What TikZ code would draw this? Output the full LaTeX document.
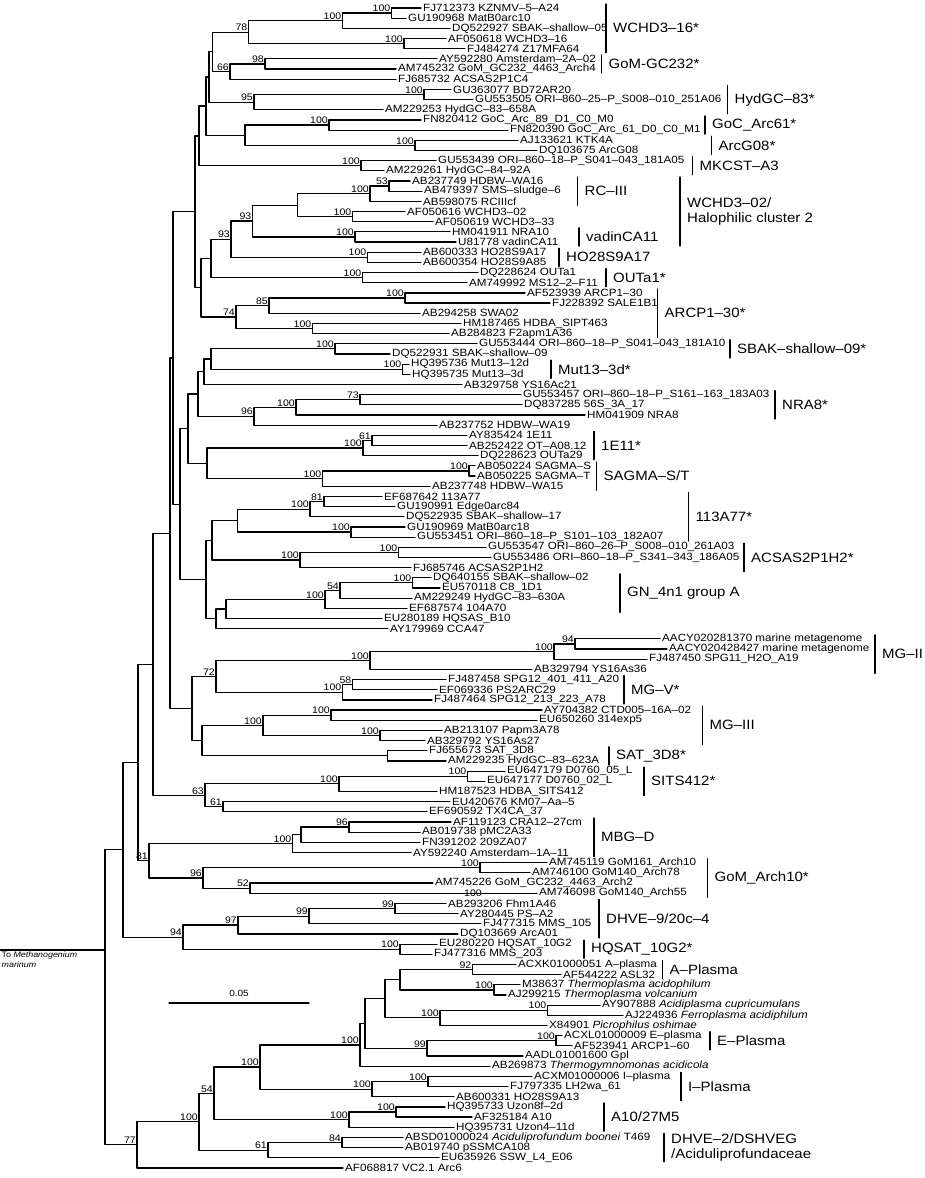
\documentclass[tikz,border=0pt]{standalone}
\usepackage{fontspec}
\setmainfont{Liberation Sans}[FakeStretch=1.11]
\usetikzlibrary{calc}
\begin{document}
\begin{tikzpicture}[x=1pt, y=-1pt, line join=round, line cap=round,
  branch/.style={line width=1.2pt},
  leaf/.style={anchor=west, inner sep=2pt, font=\fontsize{10.5}{11}\selectfont},
  boot/.style={anchor=south east, inner sep=1pt, font=\fontsize{9.5}{10}\selectfont},
  clade/.style={anchor=west, inner sep=0pt, align=left, font=\fontsize{13.5}{15}\selectfont}]
\useasboundingbox (0,0) rectangle (925,1178);
\def\dy{10.175}
\foreach \i/\tx/\lab in {
1/421/FJ712373 KZNMV–5–A24, 2/406/GU190968 MatB0arc10, 3/450/DQ522927 SBAK–shallow–05,
4/446/AF050618 WCHD3–16, 5/465/FJ484274 Z17MFA64, 6/437/AY592280 Amsterdam–2A–02,
7/396/AM745232 GoM\_GC232\_4463\_Arch4, 8/396/FJ685732 ACSAS2P1C4, 9/451/GU363077 BD72AR20,
10/473/GU553505 ORI–860–25–P\_S008–010\_251A06, 11/383/AM229253 HydGC–83–658A,
12/421/FN820412 GoC\_Arc\_89\_D1\_C0\_M0, 13/508/FN820390 GoC\_Arc\_61\_D0\_C0\_M1,
14/518/AJ133621 KTK4A, 15/537/DQ103675 ArcG08,
16/436/GU553439 ORI–860–18–P\_S041–043\_181A05, 17/384/AM229261 HydGC–84–92A,
18/410/AB237749 HDBW–WA16, 19/422/AB479397 SMS–sludge–6, 20/421/AB598075 RCIIIcf,
21/405/AF050616 WCHD3–02, 22/433/AF050619 WCHD3–33, 23/450/HM041911 NRA10,
24/456/U81778 vadinCA11, 25/421/AB600333 HO28S9A17, 26/421/AB600354 HO28S9A85,
27/478/DQ228624 OUTa1, 28/467/AM749992 MS12–2–F11, 29/525/AF523939 ARCP1–30,
30/550/FJ228392 SALE1B1, 31/420/AB294258 SWA02, 32/461/HM187465 HDBA\_SIPT463,
33/449/AB284823 F2apm1A36, 34/477/GU553444 ORI–860–18–P\_S041–043\_181A10,
35/390/DQ522931 SBAK–shallow–09, 36/409/HQ395736 Mut13–12d, 37/410/HQ395735 Mut13–3d,
38/462/AB329758 YS16Ac21, 39/521/GU553457 ORI–860–18–P\_S161–163\_183A03,
40/522/DQ837285 56S\_3A\_17, 41/585/HM041909 NRA8, 42/437/AB237752 HDBW–WA19,
43/467/AY835424 1E11, 44/467/AB252422 OT–A08.12, 45/478/DQ228623 OUTa29,
46/475/AB050224 SAGMA–S, 47/475/AB050225 SAGMA–T, 48/430/AB237748 HDBW–WA15,
49/382/EF687642 113A77, 50/395/GU190991 Edge0arc84, 51/404/DQ522935 SBAK–shallow–17,
52/405/GU190969 MatB0arc18, 53/415/GU553451 ORI–860–18–P\_S101–103\_182A07,
54/486/GU553547 ORI–860–26–P\_S008–010\_261A03, 55/491/GU553486 ORI–860–18–P\_S341–343\_186A05,
56/411/FJ685746 ACSAS2P1H2, 57/431/DQ640155 SBAK–shallow–02, 58/440/EU570118 C8\_1D1,
59/412/AM229249 HydGC–83–630A, 60/407/EF687574 104A70, 61/382/EU280189 HQSAS\_B10,
62/388/AY179969 CCA47, 63/660/AACY020281370 marine metagenome,
64/667/AACY020428427 marine metagenome, 65/647/FJ487450 SPG11\_H2O\_A19,
66/532/AB329794 YS16As36, 67/446/FJ487458 SPG12\_401\_411\_A20, 68/437/EF069336 PS2ARC29,
69/432/FJ487464 SPG12\_213\_223\_A78, 70/542/AY704382 CTD005–16A–02, 71/537/EU650260 314exp5,
72/442/AB213107 Papm3A78, 73/425/AB329792 YS16As27, 74/427/FJ655673 SAT\_3D8,
75/446/AM229235 HydGC–83–623A, 76/505/EU647179 D0760\_05\_L, 77/485/EU647177 D0760\_02\_L,
78/437/HM187523 HDBA\_SITS412, 79/450/EU420676 KM07–Aa–5, 80/427/EF690592 TX4CA\_37,
81/451/AF119123 CRA12–27cm, 82/420/AB019738 pMC2A33, 83/420/FN391202 209ZA07,
84/411/AY592240 Amsterdam–1A–11, 85/547/AM745119 GoM161\_Arch10, 86/530/AM746100 GoM140\_Arch78,
87/433/AM745226 GoM\_GC232\_4463\_Arch2, 88/537/AM746098 GoM140\_Arch55, 89/446/AB293206 Fhm1A46,
90/458/AY280445 PS–A2, 91/481/FJ477315 MMS\_105, 92/458/DQ103669 ArcA01,
93/437/EU280220 HQSAT\_10G2, 94/432/FJ477316 MMS\_203, 95/516/ACXK01000051 A–plasma,
96/561/AF544222 ASL32, 97/520/M38637 \textit{Thermoplasma acidophilum},
98/506/AJ299215 \textit{Thermoplasma volcanium}, 99/600/AY907888 \textit{Acidiplasma cupricumulans},
100/623/AJ224936 \textit{Ferroplasma acidiphilum}, 101/547/X84901 \textit{Picrophilus oshimae},
102/562/ACXL01000009 E–plasma, 103/572/AF523941 ARCP1–60, 104/523/AADL01001600 Gpl,
105/490/AB269873 \textit{Thermogymnomonas acidicola}, 106/532/ACXM01000006 I–plasma,
107/508/FJ797335 LH2wa\_61, 108/454/AB600331 HO28S9A13, 109/445/HQ395733 Uzon8f–2d,
110/472/AF325184 A10, 111/454/HQ395731 Uzon4–11d,
112/403/ABSD01000024 \textit{Aciduliprofundum boonei} T469, 113/403/AB019740 pSSMCA108,
114/439/EU635926 SSW\_L4\_E06, 115/343/AF068817 VC2.1 Arc6}{
  \coordinate (t\i) at (\tx,{8+(\i-1)*\dy});
  \node[leaf] (l\i) at (t\i) {\lab};}
\foreach \nm/\xx/\ca/\cb/\bv in {
n1/391.5/t1/t2/100, n2/342.5/n1/t3/100, n3/404/t4/t5/100, n4/248.5/n2/n3/78,
n5/265/t6/t7/98, n6/230/n5/t8/66, n7/212.5/n4/n6/0, n8/424/t9/t10/100, n9/254/n8/t11/95,
n10/329/t12/t13/100, n11/415/t14/t15/100, n12/245/n10/n11/0, n13/209/n7/n9/0,
n14/206/n13/n12/0, n15/361/t16/t17/100, n16/199/n14/n15/0,
n17/389/t18/t19/53, n18/370/n17/t20/100, n19/352.5/t21/t22/100, n20/297.5/n18/n19/0,
n21/355/t23/t24/100, n22/252.5/n20/n21/93, n23/367.5/t25/t26/100, n24/231/n22/n23/93,
n25/362.5/t27/t28/100, n26/211/n24/n25/0, n27/405/t29/t30/100, n28/269/n27/t31/85,
n29/312.5/t32/t33/100, n30/236/n28/n29/74, n31/201/n26/n30/0, n32/195/n16/n31/0,
n33/335/t34/t35/100, n34/402.5/t36/t37/100, n35/211/n33/n34/0, n36/204/n35/t38/0,
n37/360/t39/t40/73, n38/296/n37/t41/100, n39/254/n38/t42/96, n40/198/n36/n39/0,
n41/372/t43/t44/61, n42/363/n41/t45/100, n43/469/t46/t47/100, n44/322.5/n43/t48/100,
n45/207/n42/n44/0, n46/188/n40/n45/0,
n47/324/t49/t50/81, n48/310/n47/t51/100, n49/351/t52/t53/100, n50/237.5/n48/n49/0,
n51/398.5/t54/t55/100, n52/300/n51/t56/100, n53/212/n50/n52/0,
n54/412.5/t57/t58/100, n55/340/n54/t59/54, n56/325/n55/t60/100, n57/226/n56/t61/0,
n58/216/n57/t62/0, n59/206/n53/n58/0, n60/180/n46/n59/0, n61/173/n32/n60/0,
n62/575/t63/t64/94, n63/554/n62/t65/100, n64/370/n63/t66/100, n65/352.5/t67/t68/58,
n66/342.5/n65/t69/100, n67/216/n64/n66/72, n68/331/t70/t71/100, n69/380/t72/t73/100,
n70/263/n68/n69/100, n71/387.5/t74/t75/0, n72/202/n70/n71/0, n73/192/n67/n72/0,
n74/170/n61/n73/0, n75/467.5/t76/t77/100, n76/339/n75/t78/100, n77/223/t79/t80/61,
n78/205/n76/n77/63, n79/153/n74/n78/0,
n80/349/t81/t82/96, n81/301/n80/t83/0, n82/292.5/n81/t84/100, n83/480/t85/t86/100,
n84/250/t87/t88/52, n85/203/n83/n84/96, n86/395/t89/t90/99, n87/309/n86/t91/99,
n88/238/n87/t92/97, n89/400/t93/t94/100, n90/183/n88/n89/94, n91/149/n82/n85/81,
n92/138/n79/n91/0, n93/123/n92/n90/0,
n94/472.5/t95/t96/92, n95/494/t97/t98/100, n96/400/n94/n95/0, n97/547.5/t99/t100/100,
n98/440/n97/t101/100, n99/385/n96/n98/0, n100/556/t102/t103/100, n101/427/n100/t104/99,
n102/365/n99/n101/0, n103/360/n102/t105/100, n104/428/t106/t107/100, n105/372/n104/t108/100,
n106/260/n103/n105/100, n107/396/t109/t110/100, n108/349/n107/t111/100, n109/214/n106/n108/54,
n110/342/t112/t113/84, n111/268/n110/t114/61, n112/199/n109/n111/100, n113/137/n112/t115/77}{
  \path let \p1=(\ca), \p2=(\cb) in (\xx pt,{0.5*(\y1+\y2)}) coordinate (\nm);
  \draw[branch] (\nm) |- (\ca) (\nm) |- (\cb);
  \ifnum\bv>0 \node[boot] (b\nm) at (\nm) {\bv};\fi}
\coordinate (root) at (105,950);
\draw[branch] (root) |- (n93) (root) |- (n113);
\coordinate (og) at (0,0 |- root);
\draw[branch] (og) -- (root);
\node[anchor=north west, inner sep=1.5pt, align=left, font=\fontsize{8}{9.5}\selectfont] (ogl) at (og) {To \textit{Methanogenium}\\\textit{marinum}};
\node[boot] (bx) at (483,898) {100};
\coordinate (sb1) at (169,1003);
\coordinate (sb2) at (309,1003);
\draw[branch] (sb1) -- node[above=2pt, font=\fontsize{9}{9}\selectfont] (sbl) {0.05} (sb2);
\foreach \cn/\bx/\fa/\fb/\txt in {
1/606/1/5/WCHD3–16*, 2/601.5/6/7/GoM-GC232*, 3/727.5/9/11/HydGC–83*, 4/705/12/13/GoC\_Arc61*,
5/711.5/14/15/ArcG08*, 6/692.5/16/17/MKCST–A3, 7/577.5/18/20/RC–III,
8/680/18/24/{WCHD3–02/\\Halophilic cluster 2}, 9/579/23/24/vadinCA11, 10/559/25/26/HO28S9A17,
11/606/27/28/OUTa1*, 12/657.5/29/33/ARCP1–30*, 13/730/34/35/SBAK–shallow–09*,
14/551/36/37/Mut13–3d*, 15/775/39/41/NRA8*, 16/594/43/45/1E11*, 17/596.5/46/48/{SAGMA–S/T},
18/688.5/49/53/113A77*, 19/744/54/56/ACSAS2P1H2*, 20/620/57/60/GN\_4n1 group A,
21/875/63/66/MG–II, 22/624/67/69/MG–V*, 23/702.5/70/73/MG–III, 24/609/74/75/SAT\_3D8*,
25/644/76/78/SITS412*, 26/594/81/84/MBG–D, 27/707.5/85/88/GoM\_Arch10*,
28/599/89/92/{DHVE–9/20c–4}, 29/584/93/94/HQSAT\_10G2*, 30/662.5/95/96/A–Plasma,
31/710/102/103/E–Plasma, 32/681/106/108/I–Plasma, 33/604/109/111/{A10/27M5},
34/664/112/114/{DHVE–2/DSHVEG\\/Aciduliprofundaceae}}{
  \draw[branch] (\bx,{8+(\fa-1)*\dy-4}) -- (\bx,{8+(\fb-1)*\dy+4});
  \node[clade] (c\cn) at ({\bx+7},{8+(\fa+\fb-2)*\dy/2}) {\txt};}
\end{tikzpicture}
\end{document}
